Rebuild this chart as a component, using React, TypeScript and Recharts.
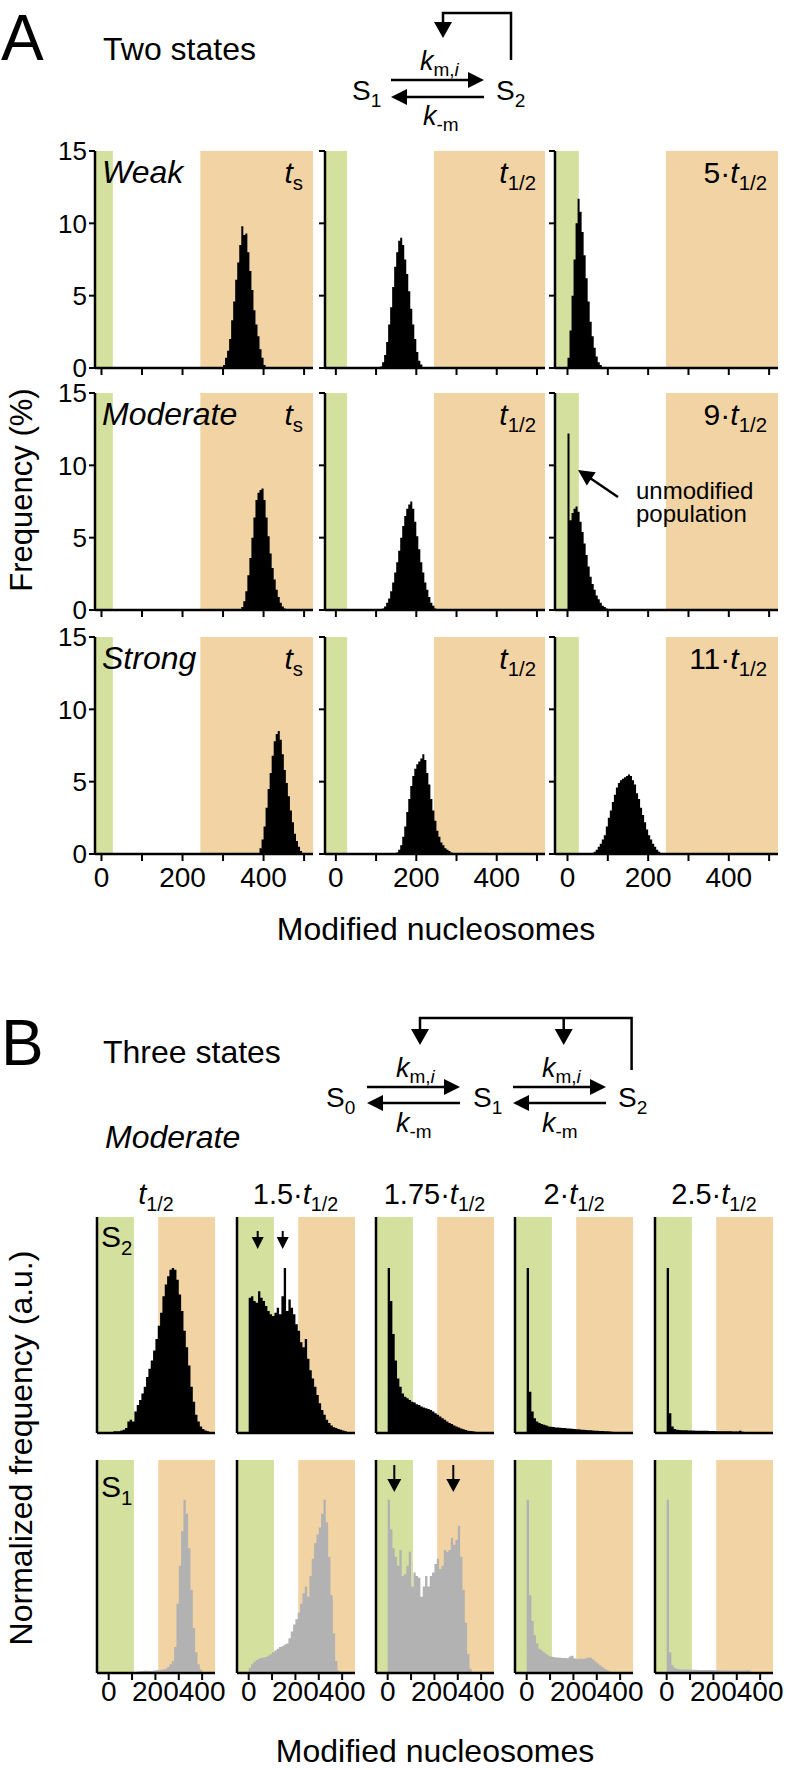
import React from "react";
import { AreaChart, Area, XAxis, YAxis, ReferenceArea } from "recharts";

const FONT = "'Liberation Sans', Arial, Helvetica, sans-serif";
const GREEN = "#d3e09e";
const ORANGE = "#f2d3a3";
const GRAY = "#b2b2b2";

type Series = { from: number; y: number[] };

// ---- panel A: frequency (%) in 5-nucleosome bins, first bin at `from`
const weakTs: Series = { from: 300, y: [0.2, 0.7, 1.2, 2.0, 3.3, 4.6, 6.1, 7.3, 8.5, 9.8, 9.2, 9.3, 8.0, 6.7, 5.4, 4.0, 3.0, 2.2, 1.3, 0.7, 0.2] };
const weakHalf: Series = { from: 110, y: [0.1, 0.4, 0.9, 1.8, 3.0, 4.2, 5.6, 7.0, 8.0, 8.8, 9.0, 8.5, 7.5, 6.5, 5.3, 4.1, 3.0, 2.0, 1.1, 0.5, 0.25, 0.07] };
const weak5: Series = { from: 0, y: [0.7, 2.6, 5.0, 7.5, 10.0, 11.7, 10.8, 9.4, 7.8, 6.2, 4.6, 3.2, 2.2, 1.4, 0.8, 0.4, 0.2, 0.07] };

const modTs: Series = { from: 345, y: [0.2, 0.6, 1.3, 2.4, 3.6, 5.0, 6.4, 7.6, 8.1, 8.3, 8.4, 7.6, 6.4, 5.1, 3.9, 2.9, 2.1, 1.4, 0.9, 0.5, 0.25, 0.1] };
const modHalf: Series = { from: 115, y: [0.1, 0.25, 0.5, 0.8, 1.3, 1.9, 2.6, 3.3, 4.1, 5.0, 5.8, 6.5, 7.0, 7.3, 7.5, 7.0, 6.1, 5.1, 4.2, 3.3, 2.6, 1.9, 1.4, 0.9, 0.5, 0.3, 0.1] };
const mod9: Series = { from: 0, y: [12.2, 6.2, 6.7, 7.0, 7.15, 6.8, 6.1, 5.4, 4.6, 3.8, 3.0, 2.3, 1.8, 1.4, 1.0, 0.75, 0.5, 0.3, 0.2, 0.1] };

const strTs: Series = { from: 385, y: [0.05, 0.4, 1.0, 1.9, 3.2, 4.5, 5.6, 6.8, 7.8, 8.3, 8.5, 7.9, 6.9, 5.8, 4.9, 4.0, 3.0, 2.2, 1.4, 0.9, 0.5, 0.2, 0.05] };
const strHalf: Series = { from: 150, y: [0.1, 0.3, 0.6, 1.2, 1.9, 2.9, 3.8, 4.7, 5.4, 5.9, 6.2, 6.4, 6.6, 6.9, 6.5, 5.6, 4.8, 3.8, 3.0, 2.3, 1.6, 1.2, 0.8, 0.6, 0.4, 0.3, 0.2, 0.1] };
const str11: Series = { from: 60, y: [0.05, 0.15, 0.3, 0.5, 0.7, 1.0, 1.3, 1.9, 2.5, 3.0, 3.6, 4.1, 4.6, 4.9, 5.1, 5.2, 5.3, 5.4, 5.5, 5.4, 5.1, 4.8, 4.2, 3.8, 3.2, 2.7, 2.2, 1.7, 1.3, 1.0, 0.7, 0.5, 0.3, 0.15] };

const rowNamesA = ["Weak", "Moderate", "Strong"];
const lastTimeA = ["5", "9", "11"];
const seriesA = [
  [weakTs, weakHalf, weak5],
  [modTs, modHalf, mod9],
  [strTs, strHalf, str11],
];
const xTicksA = [0, 100, 200, 300, 400, 500];
const yTicksA = [0, 5, 10, 15];
const bandsA = [28, 244];

// ---- panel B: normalized frequency, 10-nucleosome bins
const s2Half: Series = { from: 10, y: [0.005, 0.01, 0.01, 0.01, 0.015, 0.02, 0.03, 0.07, 0.08, 0.07, 0.13, 0.17, 0.2, 0.24, 0.28, 0.34, 0.39, 0.44, 0.5, 0.57, 0.65, 0.73, 0.83, 0.9, 0.95, 0.99, 1.0, 0.99, 0.93, 0.84, 0.74, 0.62, 0.52, 0.41, 0.28, 0.19, 0.11, 0.07, 0.04, 0.025, 0.015, 0.01, 0.005, 0.005] };
const s2T15: Series = { from: 0, y: [0.82, 0.83, 0.8, 0.79, 0.86, 0.82, 0.8, 0.77, 0.74, 0.72, 0.71, 0.73, 0.76, 0.72, 0.83, 1.0, 0.74, 0.81, 0.76, 0.72, 0.66, 0.62, 0.55, 0.52, 0.57, 0.45, 0.38, 0.33, 0.28, 0.23, 0.18, 0.14, 0.11, 0.08, 0.06, 0.045, 0.035, 0.03, 0.025, 0.02, 0.015, 0.01, 0.005] };
const s2T175: Series = { from: 0, y: [1.0, 0.8, 0.6, 0.44, 0.33, 0.28, 0.24, 0.22, 0.21, 0.2, 0.19, 0.185, 0.175, 0.17, 0.16, 0.155, 0.15, 0.145, 0.14, 0.13, 0.12, 0.11, 0.1, 0.09, 0.08, 0.07, 0.06, 0.055, 0.045, 0.04, 0.033, 0.028, 0.022, 0.018, 0.014, 0.012, 0.01, 0.008, 0.006, 0.004, 0.003] };
const s2T2: Series = { from: 0, y: [1.0, 0.25, 0.13, 0.09, 0.07, 0.06, 0.055, 0.05, 0.045, 0.04, 0.038, 0.036, 0.034, 0.033, 0.032, 0.031, 0.03, 0.028, 0.027, 0.026, 0.024, 0.023, 0.022, 0.02, 0.019, 0.018, 0.017, 0.016, 0.015, 0.014, 0.013, 0.012, 0.012, 0.011, 0.01, 0.009, 0.008, 0.006, 0.004, 0.003] };
const s2T25: Series = { from: 0, y: [1.0, 0.12, 0.04, 0.025, 0.02, 0.018, 0.017, 0.016, 0.016, 0.015, 0.015, 0.015, 0.014, 0.014, 0.014, 0.013, 0.013, 0.013, 0.012, 0.012, 0.012, 0.011, 0.011, 0.011, 0.01, 0.01, 0.01, 0.01, 0.009, 0.009, 0.009, 0.014, 0.008, 0.006, 0.004, 0.003] };

const s1Half: Series = { from: 110, y: [0.006, 0.008, 0.01, 0.012, 0.013, 0.013, 0.012, 0.012, 0.014, 0.016, 0.016, 0.018, 0.02, 0.025, 0.035, 0.05, 0.07, 0.15, 0.4, 0.62, 0.82, 1.0, 0.92, 0.72, 0.48, 0.26, 0.12, 0.05, 0.02, 0.006] };
const s1T15: Series = { from: 0, y: [0.03, 0.05, 0.065, 0.075, 0.082, 0.088, 0.09, 0.093, 0.1, 0.11, 0.12, 0.13, 0.14, 0.15, 0.155, 0.165, 0.17, 0.2, 0.24, 0.28, 0.31, 0.35, 0.4, 0.46, 0.5, 0.44, 0.56, 0.66, 0.75, 0.8, 0.84, 0.92, 1.0, 0.87, 0.67, 0.45, 0.23, 0.07, 0.015] };
const s1T175: Series = { from: 0, y: [1.0, 0.83, 0.72, 0.67, 0.62, 0.71, 0.56, 0.57, 0.62, 0.7, 0.5, 0.58, 0.56, 0.55, 0.44, 0.5, 0.56, 0.5, 0.56, 0.58, 0.63, 0.66, 0.6, 0.62, 0.71, 0.7, 0.71, 0.78, 0.74, 0.77, 0.85, 0.67, 0.48, 0.29, 0.11, 0.025, 0.006] };
const s1T2: Series = { from: 0, y: [1.0, 0.45, 0.3, 0.22, 0.17, 0.14, 0.13, 0.12, 0.11, 0.1, 0.095, 0.092, 0.09, 0.09, 0.088, 0.087, 0.086, 0.085, 0.095, 0.1, 0.085, 0.083, 0.082, 0.082, 0.083, 0.085, 0.09, 0.088, 0.078, 0.067, 0.055, 0.045, 0.035, 0.025, 0.018, 0.01, 0.005] };
const s1T25: Series = { from: 0, y: [1.0, 0.12, 0.045, 0.03, 0.025, 0.022, 0.02, 0.02, 0.02, 0.02, 0.019, 0.019, 0.019, 0.018, 0.018, 0.018, 0.018, 0.017, 0.017, 0.017, 0.017, 0.016, 0.016, 0.016, 0.016, 0.016, 0.015, 0.015, 0.015, 0.015, 0.015, 0.015, 0.015, 0.015, 0.018, 0.015] };

const timesB = ["", "1.5·", "1.75·", "2·", "2.5·"];
const seriesBS2 = [s2Half, s2T15, s2T175, s2T2, s2T25];
const seriesBS1 = [s1Half, s1T15, s1T175, s1T2, s1T25];
const xTicksB = [0, 100, 200, 300, 400];
const bandsB = [108, 212];

// ---- layout
const colsA = [
  { left: 95, w: 218, dom: [-16, 522] },
  { left: 325, w: 220, dom: [-27, 520] },
  { left: 555, w: 223, dom: [-31, 522] },
];
const rowTopsA = [151, 393, 637];
const H_A = 217;
const colLeftsB = [97, 236.5, 375.5, 515, 655];
const W_B = 118;
const X_TICK_FS = 28;
const Y_TICK_FS = 26;

const steps = (s: Series, bin: number) => {
  const pts = s.y.map((v, i) => ({ x: s.from + i * bin, y: v }));
  pts.push({ x: s.from + s.y.length * bin, y: 0 });
  return pts;
};

const every200 = (v: number) => (v % 200 === 0 ? String(v) : "");

type HistProps = {
  left: number;
  top: number;
  w: number;
  h: number;
  s: Series;
  bin: number;
  xDom: number[];
  xTicks: number[];
  yDom: number[];
  yTicks?: number[];
  yLabels?: boolean;
  xLabels?: boolean;
  fill: string;
  bands: number[];
  xTickMargin: number;
};

function Hist(p: HistProps) {
  const YW = 60, MT = 24, MR = 30, XH = 50;
  const data = steps(p.s, p.bin);
  const axisLine = { stroke: "#000", strokeWidth: 2.5 };
  const tickLine = { stroke: "#000", strokeWidth: 2 };
  return (
    <div style={{ position: "absolute", left: p.left - YW, top: p.top - MT }}>
      <AreaChart
        width={YW + p.w + MR}
        height={MT + p.h + XH}
        data={data}
        margin={{ top: MT, right: MR, bottom: 0, left: 0 }}
      >
        <ReferenceArea x1={p.xDom[0]} x2={p.bands[0]} fill={GREEN} fillOpacity={1} stroke="none" />
        <ReferenceArea x1={p.bands[1]} x2={p.xDom[1]} fill={ORANGE} fillOpacity={1} stroke="none" />
        <XAxis
          type="number"
          dataKey="x"
          domain={p.xDom}
          allowDataOverflow
          ticks={p.xTicks}
          interval={0}
          height={XH}
          tickSize={7}
          tickMargin={p.xTickMargin}
          tickFormatter={p.xLabels === false ? () => "" : every200}
          tick={{ fill: "#000", fontSize: X_TICK_FS, fontFamily: FONT }}
          tickLine={tickLine}
          axisLine={axisLine}
        />
        <YAxis
          type="number"
          domain={p.yDom}
          allowDataOverflow
          ticks={p.yTicks}
          interval={0}
          width={YW}
          tickSize={p.yTicks ? 6 : 0}
          tickMargin={2}
          tick={p.yTicks ? { fill: "#000", fontSize: Y_TICK_FS, fontFamily: FONT } : false}
          tickFormatter={(v: number) => (p.yLabels ? String(v) : "")}
          tickLine={p.yTicks ? tickLine : false}
          axisLine={axisLine}
        />
        <XAxis xAxisId="top" orientation="top" type="number" domain={p.xDom} height={0} tick={false} tickLine={false} axisLine={axisLine} />
        <YAxis yAxisId="right" orientation="right" type="number" domain={[0, 1]} width={0} tick={false} tickLine={false} axisLine={axisLine} />
        <Area
          type="stepAfter"
          dataKey="y"
          fill={p.fill}
          fillOpacity={1}
          stroke="none"
          dot={false}
          activeDot={false}
          isAnimationActive={false}
          zIndex={300}
        />
      </AreaChart>
    </div>
  );
}

const head = (tx: number, ty: number, ang: number, len = 14, half = 7) => {
  const c = Math.cos(ang), s = Math.sin(ang);
  const bx = tx - c * len, by = ty - s * len;
  return `${tx},${ty} ${bx - s * half},${by + c * half} ${bx + s * half},${by - c * half}`;
};

function Arrow({ x1, y1, x2, y2, len = 14, half = 7, w = 2.5 }: { x1: number; y1: number; x2: number; y2: number; len?: number; half?: number; w?: number }) {
  const ang = Math.atan2(y2 - y1, x2 - x1);
  const ex = x2 - Math.cos(ang) * (len - 2), ey = y2 - Math.sin(ang) * (len - 2);
  return (
    <g>
      <line x1={x1} y1={y1} x2={ex} y2={ey} stroke="#000" strokeWidth={w} />
      <polygon points={head(x2, y2, ang, len, half)} fill="#000" />
    </g>
  );
}

const TLabel = ({ x, y, pre = "", sub, anchor = "end", size = 30 }: { x: number; y: number; pre?: string; sub: string; anchor?: string; size?: number }) => (
  <text x={x} y={y} textAnchor={anchor as any} fontSize={size}>
    {pre}
    <tspan fontStyle="italic">t</tspan>
    <tspan fontSize={size * 0.68} dy={size * 0.24}>{sub}</tspan>
  </text>
);

const KFwd = ({ x, y }: { x: number; y: number }) => (
  <text x={x} y={y} fontSize={27}>
    <tspan fontStyle="italic">k</tspan>
    <tspan fontSize={19} dy={6}>m,</tspan>
    <tspan fontSize={19} fontStyle="italic">i</tspan>
  </text>
);
const KBack = ({ x, y }: { x: number; y: number }) => (
  <text x={x} y={y} fontSize={27}>
    <tspan fontStyle="italic">k</tspan>
    <tspan fontSize={19} dy={6}>-m</tspan>
  </text>
);
const State = ({ x, y, n, size = 28 }: { x: number; y: number; n: string; size?: number }) => (
  <text x={x} y={y} fontSize={size}>
    S<tspan fontSize={size * 0.68} dy={size * 0.25}>{n}</tspan>
  </text>
);

export default function App() {
  return (
    <div style={{ position: "absolute", left: 0, top: 0, width: 789, height: 1770, background: "#fff", fontFamily: FONT }}>
      {seriesA.map((row, r) =>
        row.map((s, c) => (
          <Hist
            key={`a${r}${c}`}
            left={colsA[c].left}
            top={rowTopsA[r]}
            w={colsA[c].w}
            h={H_A}
            s={s}
            bin={5}
            xDom={colsA[c].dom}
            xTicks={xTicksA}
            yDom={[0, 15]}
            yTicks={yTicksA}
            yLabels={c === 0}
            xLabels={r === 2}
            fill="#000"
            bands={bandsA}
            xTickMargin={6}
          />
        ))
      )}
      {seriesBS2.map((s, c) => (
        <Hist key={`b2${c}`} left={colLeftsB[c]} top={1216.7} w={W_B} h={216} s={s} bin={10} xDom={[-50, 455]} xTicks={[]} yDom={[0, 1.31]} fill="#000" bands={bandsB} xTickMargin={2} xLabels={false} />
      ))}
      {seriesBS1.map((s, c) => (
        <Hist key={`b1${c}`} left={colLeftsB[c]} top={1460} w={W_B} h={213} s={s} bin={10} xDom={[-50, 455]} xTicks={xTicksB} yDom={[0, 1.23]} fill={GRAY} bands={bandsB} xTickMargin={1} />
      ))}

      <svg width={789} height={1770} style={{ position: "absolute", left: 0, top: 0, zIndex: 10, pointerEvents: "none" }} fontFamily={FONT}>
        {/* panel A header */}
        <text x={1} y={60} fontSize={64}>A</text>
        <text x={103} y={60} fontSize={32}>Two states</text>
        <State x={352} y={100} n="1" />
        <State x={496} y={100} n="2" />
        <Arrow x1={391} y1={80} x2={484} y2={80} len={16} half={8} />
        <Arrow x1={484} y1={97} x2={391} y2={97} len={16} half={8} />
        <KFwd x={420} y={70} />
        <KBack x={423} y={125} />
        <polyline points="511,60 511,13 443,13 443,24" fill="none" stroke="#000" strokeWidth={2.5} />
        <polygon points={head(443, 38, Math.PI / 2, 16, 9)} fill="#000" />

        {/* panel A labels */}
        {rowNamesA.map((n, r) => (
          <g key={n}>
            <text x={102} y={rowTopsA[r] + 32} fontSize={32} fontStyle="italic">{n}</text>
            <TLabel x={303} y={rowTopsA[r] + 32} sub="s" />
            <TLabel x={536} y={rowTopsA[r] + 32} sub="1/2" />
            <TLabel x={767} y={rowTopsA[r] + 32} pre={`${lastTimeA[r]}·`} sub="1/2" />
          </g>
        ))}
        <Arrow x1={618} y1={497} x2={578} y2={470} len={16} half={8} />
        <text x={636} y={499} fontSize={24}>unmodified</text>
        <text x={636} y={522} fontSize={24}>population</text>
        <text transform="translate(32,490) rotate(-90)" textAnchor="middle" fontSize={31}>Frequency (%)</text>
        <text x={436} y={940} textAnchor="middle" fontSize={32}>Modified nucleosomes</text>

        {/* panel B header */}
        <text x={1} y={1065} fontSize={64}>B</text>
        <text x={103} y={1063} fontSize={32}>Three states</text>
        <polyline points="420,1030 420,1018 631.6,1018 631.6,1070" fill="none" stroke="#000" strokeWidth={2.5} />
        <line x1={563.7} y1={1018} x2={563.7} y2={1032} stroke="#000" strokeWidth={2.5} />
        <polygon points={head(420, 1045, Math.PI / 2, 16, 9)} fill="#000" />
        <polygon points={head(563.7, 1045, Math.PI / 2, 16, 9)} fill="#000" />
        <State x={326} y={1107} n="0" />
        <State x={473} y={1107} n="1" />
        <State x={618} y={1107} n="2" />
        <Arrow x1={367} y1={1087} x2={460} y2={1087} len={16} half={8} />
        <Arrow x1={460} y1={1103} x2={367} y2={1103} len={16} half={8} />
        <Arrow x1={513} y1={1087} x2={606} y2={1087} len={16} half={8} />
        <Arrow x1={606} y1={1103} x2={513} y2={1103} len={16} half={8} />
        <KFwd x={396} y={1077} />
        <KFwd x={542} y={1077} />
        <KBack x={396} y={1132} />
        <KBack x={542} y={1132} />
        <text x={105} y={1148} fontSize={32} fontStyle="italic">Moderate</text>

        {/* panel B labels */}
        {timesB.map((t, c) => (
          <TLabel key={c} x={colLeftsB[c] + W_B / 2} y={1204} pre={t} sub="1/2" anchor="middle" size={29} />
        ))}
        <State x={101} y={1247} n="2" size={30} />
        <State x={101} y={1497} n="1" size={30} />
        <Arrow x1={257.7} y1={1231} x2={257.7} y2={1249} len={12} half={6} w={2} />
        <Arrow x1={282.7} y1={1231} x2={282.7} y2={1249} len={12} half={6} w={2} />
        <Arrow x1={394.3} y1={1465} x2={394.3} y2={1492} len={13} half={7} w={2} />
        <Arrow x1={453.3} y1={1465} x2={453.3} y2={1492} len={13} half={7} w={2} />
        <text transform="translate(32,1448) rotate(-90)" textAnchor="middle" fontSize={32}>Normalized frequency (a.u.)</text>
        <text x={435} y={1762} textAnchor="middle" fontSize={32}>Modified nucleosomes</text>
      </svg>
    </div>
  );
}
